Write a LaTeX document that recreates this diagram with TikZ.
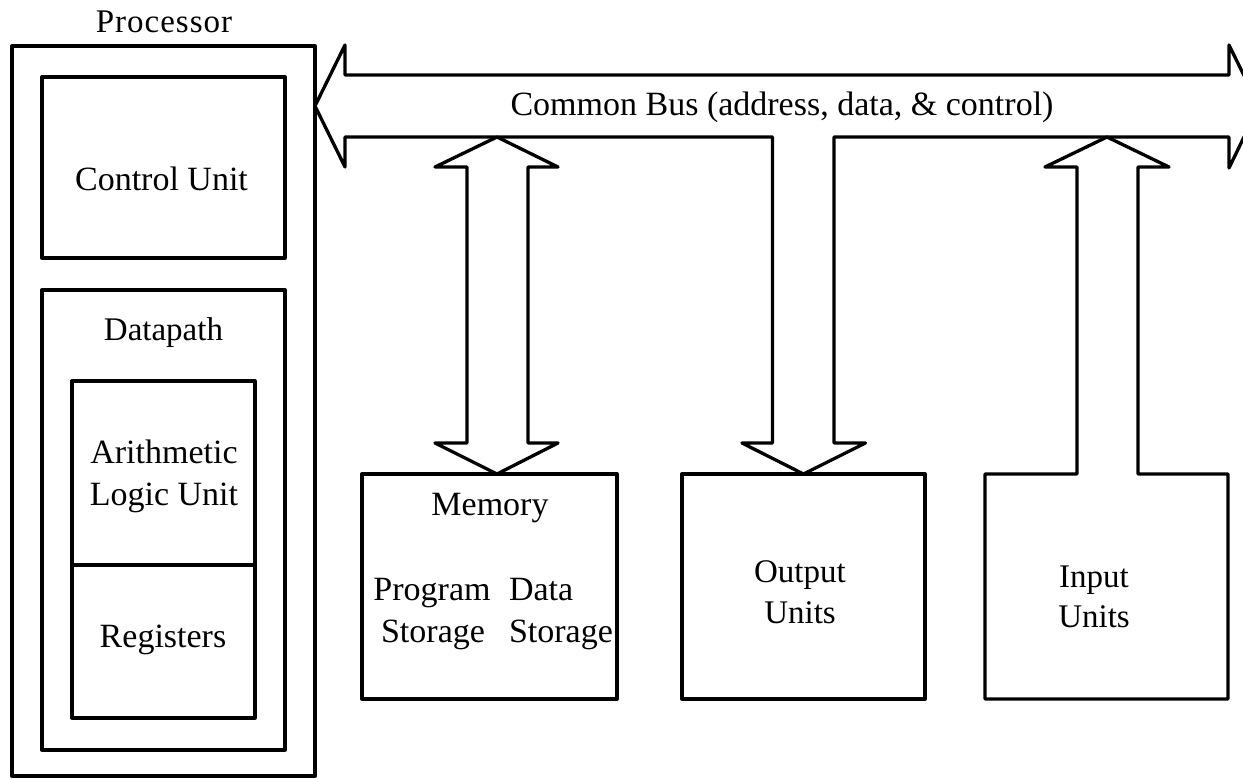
\documentclass[tikz,border=0pt]{standalone}
\usepackage{fontspec}
\setmainfont{Liberation Serif}
\usetikzlibrary{calc}
\begin{document}
\begin{tikzpicture}[x=1pt,y=-1pt,line width=3.3pt,line join=round,
  box/.style={draw,rectangle,inner sep=0pt,outer sep=0pt},
  lbl/.style={inner sep=0pt,outer sep=0pt,anchor=base},
  fA/.style={font=\fontsize{33}{36}\selectfont\addfontfeatures{LetterSpace=3}},
  fB/.style={font=\fontsize{34}{38}\selectfont},
  fC/.style={font=\fontsize{33}{36}\selectfont},
  fH/.style={font=\fontsize{34}{38}\selectfont},
  fG/.style={font=\fontsize{33}{36}\selectfont},
]
\useasboundingbox (0,0) rectangle (1243,779);
\clip (0,0) rectangle (1243,779);

% processor and its parts
\node[box,minimum width=303pt,minimum height=730pt] (proc) at (163.5,411) {};
\node[box,minimum width=243pt,minimum height=181pt] (ctrl) at (163.5,167.5) {};
\node[box,minimum width=243pt,minimum height=460pt] (dp) at (163.5,520) {};
\node[box,minimum width=183pt,minimum height=184pt] (alu) at (163.5,473) {};
\node[box,minimum width=183pt,minimum height=153pt] (reg) at (163.5,641.5) {};

% memory, output and input blocks
\node[box,minimum width=255pt,minimum height=225pt] (mem) at (489.5,586.5) {};
\node[box,minimum width=243pt,minimum height=225pt] (out) at (803.5,586.5) {};
\node[rectangle,inner sep=0pt,outer sep=0pt,minimum width=243pt,minimum height=225pt] (in) at (1106.5,586.5) {};

% labels
\node[lbl,fA] (tproc) at (164,32) {Processor};
\node[lbl,fB] (tctrl) at (161.5,190) {Control Unit};
\node[lbl,fC] (tdp) at (163.5,340) {Datapath};
\node[lbl,fB] (talu1) at (164,463) {Arithmetic};
\node[lbl,fB] (talu2) at (164,505) {Logic Unit};
\node[lbl,fB] (treg) at (163,647) {Registers};
\node[lbl,fH] (tbus) at (782,115) {Common Bus (address, data, \& control)};
\node[lbl,fB] (tmem) at (490,515) {Memory};
\node[lbl,fB] (tprog1) at (432,600) {Program};
\node[lbl,fB] (tprog2) at (433,642) {Storage};
\node[lbl,fB,anchor=base west] (tdata1) at (509,600) {Data};
\node[lbl,fB,anchor=base west] (tdata2) at (509,642) {Storage};
\node[lbl,fG] (tout1) at (800,582) {Output};
\node[lbl,fG] (tout2) at (800,623) {Units};
\node[lbl,fG] (tin1) at (1094,587) {Input};
\node[lbl,fG] (tin2) at (1094,627) {Units};

% bus ends
\coordinate (busL) at (proc.east |- 0,106);
\coordinate (busR) at (1259,106);

% common bus, with the output branch leaving its lower edge
\draw (busL) -- ++(30,-61) -- ++(0,30) -- ($(busR)+(-30,-31)$) -- ++(0,-30)
  -- (busR) -- ++(-30,62) -- ++(0,-31)
  -- ($(out.north)+(30.5,-337)$) -- ($(out.north)+(30.5,-31)$)
  -- ($(out.north)+(62,-31)$) -- (out.north) -- ($(out.north)+(-61.5,-31)$)
  -- ($(out.north)+(-31,-31)$) -- ($(out.north)+(-31,-337)$)
  -- ($(busL)+(30,31)$) -- ++(0,30) -- cycle;

% memory double arrow
\coordinate (mb) at (497,474);
\coordinate (mt) at (497,137);
\draw (mt) -- ($(mt)+(61,30)$) -- ($(mt)+(31,30)$) -- ($(mb)+(31,-31)$)
  -- ($(mb)+(61,-31)$) -- (mb) -- ($(mb)+(-62,-31)$) -- ($(mb)+(-30,-31)$)
  -- ($(mt)+(-30,30)$) -- ($(mt)+(-62,30)$) -- cycle;

% input block, open into its arrow
\draw ($(in.north)+(-29.5,0)$) -- (in.north west) -- (in.south west) -- (in.south east)
  -- (in.north east) -- ($(in.north)+(31.5,0)$) -- ($(in.north)+(31.5,-307)$)
  -- ($(in.north)+(62.5,-307)$) -- ($(in.north)+(0.5,-337)$)
  -- ($(in.north)+(-61.5,-307)$) -- ($(in.north)+(-29.5,-307)$) -- cycle;
\end{tikzpicture}
\end{document}
